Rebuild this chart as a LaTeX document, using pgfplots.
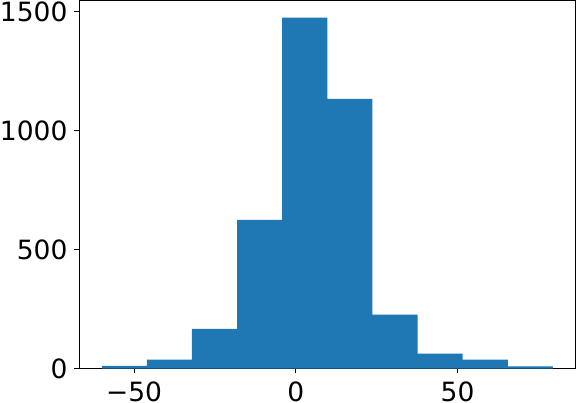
\documentclass[border=0pt]{standalone}
\usepackage{fontspec}
\setmainfont{DejaVu Sans}
\usepackage{pgfplots}
\pgfplotsset{compat=1.18}
\definecolor{mplblue}{HTML}{1F77B4}

\begin{document}
\begin{tikzpicture}
  \begin{axis}[
      scale only axis,
      width=496pt, height=368pt,
      xmin=-66.98, xmax=86.48,
      ymin=0, ymax=1548,
      xtick={-50,0,50},
      xticklabels={−50,0,50},
      ytick={0,500,1000,1500},
      yticklabels={0,500,1000,1500},
      xtick pos=bottom, ytick pos=left,
      tick align=outside,
      major tick length=4.7pt,
      minor tick num=0,
      tick style={line width=1pt, black},
      axis line style={line width=1pt},
      ticklabel style={font=\fontsize{26.5}{26.5}\selectfont, inner sep=0pt},
      xticklabel style={yshift=-6.8pt, text depth=0pt, inner ysep=1pt},
      yticklabel style={xshift=-6.8pt},
    ]
    \addplot[ybar interval, fill=mplblue, draw=none] coordinates {
      (-60,12) (-46.05,38) (-32.1,168) (-18.15,626) (-4.2,1476)
      (9.75,1134) (23.7,227) (37.65,64) (51.6,38) (65.55,10) (79.5,10)
    };
  \end{axis}
\end{tikzpicture}
\end{document}
